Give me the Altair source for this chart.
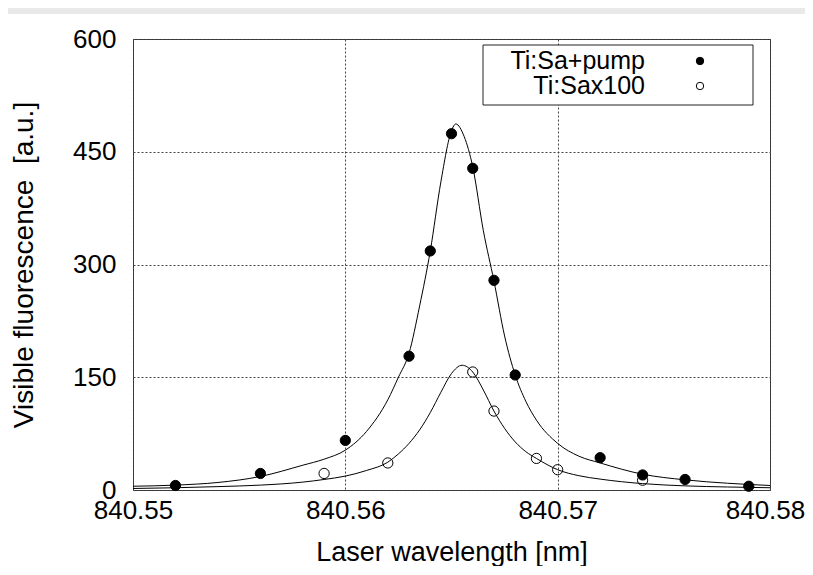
import altair as alt
import pandas as pd

# Measured points (Ti:Sa+pump, filled)
pump_x = [840.552, 840.556, 840.560, 840.563, 840.564, 840.565, 840.566, 840.567, 840.568, 840.572, 840.574, 840.576, 840.579]
pump_y = [6, 22, 66, 178, 318, 474, 428, 279, 153, 43, 20, 14, 5]

# Measured points (Ti:Sax100, open)
sax_x = [840.559, 840.562, 840.566, 840.567, 840.569, 840.570, 840.574]
sax_y = [22, 36, 157, 105, 42, 27, 13]

# Fit curves
upper_x = [840.550, 840.552, 840.554, 840.556, 840.558, 840.559, 840.560, 840.561, 840.562, 840.5625,
           840.563, 840.5635, 840.564, 840.5645, 840.565, 840.5652, 840.5656, 840.566, 840.5665, 840.567,
           840.5675, 840.568, 840.5685, 840.569, 840.570, 840.571, 840.572, 840.574, 840.576, 840.578, 840.580]
upper_y = [5, 6.5, 10, 18, 33, 41, 53, 78, 120, 150,
           182, 245, 318, 410, 478, 487, 470, 430, 345, 278,
           205, 153, 118, 93, 62, 45, 36, 21, 13.5, 9, 6]

lower_x = [840.550, 840.552, 840.554, 840.556, 840.558, 840.559, 840.560, 840.561, 840.562, 840.5625,
           840.563, 840.5635, 840.564, 840.5645, 840.565, 840.5655, 840.566, 840.5665, 840.567, 840.5675,
           840.568, 840.5685, 840.569, 840.570, 840.571, 840.572, 840.574, 840.576, 840.578, 840.580]
lower_y = [2, 3, 4.5, 6.5, 10.5, 14, 18.5, 26, 37, 48,
           62, 80, 103, 130, 155, 166, 157, 133, 105, 82,
           64, 51, 42, 27, 19, 14.5, 8.5, 5.5, 4, 3]

series_names = ["Ti:Sa+pump", "Ti:Sax100"]
x_ticks = [840.55, 840.56, 840.57, 840.58]
y_ticks = [0, 150, 300, 450, 600]

points = pd.DataFrame({
    "wl": pump_x + sax_x,
    "fl": pump_y + sax_y,
    "series": [series_names[0]] * len(pump_x) + [series_names[1]] * len(sax_x),
})
curves = pd.DataFrame({
    "wl": upper_x + lower_x,
    "fl": upper_y + lower_y,
    "curve": ["upper"] * len(upper_x) + ["lower"] * len(lower_x),
})

FONT = "Liberation Sans"
x_scale = alt.Scale(domain=[840.55, 840.58], nice=False, zero=False)
y_scale = alt.Scale(domain=[0, 600], nice=False, zero=False)
fill_scale = alt.Scale(domain=series_names, range=["black", "transparent"])

x_axis = alt.Axis(values=x_ticks, format=".2f", title="Laser wavelength [nm]",
                  labelPadding=7, titlePadding=16, labelFlush=False, titleFontSize=27,
                  labelOffset={"condition": {"test": "datum.value > 840.575", "value": -5}, "value": 0})
y_axis = alt.Axis(values=y_ticks, format="d", title="Visible fluorescence\u00a0 [a.u.]",
                  labelPadding=17, titlePadding=34, titleFontSize=28)

one = pd.DataFrame({"a": [0]})

band = alt.Chart(one).mark_rect(color="#e9e9e9").encode(
    x=alt.value(-125), x2=alt.value(672), y=alt.value(-31), y2=alt.value(-25)
)

lines = alt.Chart(curves).mark_line(color="black", strokeWidth=1, interpolate="monotone", clip=True).encode(
    x=alt.X("wl:Q", scale=x_scale, axis=x_axis),
    y=alt.Y("fl:Q", scale=y_scale, axis=y_axis),
    detail="curve:N",
)

pts = alt.Chart(points).mark_point(filled=True, shape="circle", size=105, stroke="black",
                                    strokeWidth=1, opacity=1, fillOpacity=1).encode(
    x=alt.X("wl:Q", scale=x_scale),
    y=alt.Y("fl:Q", scale=y_scale),
    fill=alt.Fill("series:N", scale=fill_scale, legend=None),
)

# Legend (gnuplot style: label right-aligned, symbol to its right, boxed)
box = alt.Chart(one).mark_rect(fill="white", stroke="#222", strokeWidth=1).encode(
    x=alt.value(350), x2=alt.value(620), y=alt.value(6), y2=alt.value(66)
)
legend_layers = [box]
for i, name in enumerate(series_names):
    row = pd.DataFrame({"series": [name]})
    ry = 22 + 25 * i
    legend_layers.append(
        alt.Chart(row).mark_text(align="right", baseline="middle", font=FONT, fontSize=25,
                                 color="black").encode(
            text="series:N", x=alt.value(512), y=alt.value(ry))
    )
    legend_layers.append(
        alt.Chart(row).mark_point(filled=True, shape="circle", size=55, stroke="black",
                                  strokeWidth=1, opacity=1, fillOpacity=1).encode(
            x=alt.value(567), y=alt.value(ry),
            fill=alt.Fill("series:N", scale=fill_scale, legend=None))
    )

chart = alt.layer(band, lines, pts, *legend_layers).properties(
    width=637, height=451,
    padding={"left": 125, "top": 31, "right": 35, "bottom": 76},
    autosize="none",
    background="white",
).configure_view(stroke="#333", strokeWidth=1).configure_axis(
    labelFont=FONT, titleFont=FONT, labelFontSize=26,
    labelColor="black", titleColor="black", titleFontWeight="normal",
    ticks=False, domain=False,
    gridColor="#444", gridDash=[2, 2], gridWidth=1, gridOpacity=1,
)

chart.save("out.html", embed_options={"renderer": "svg", "actions": False})
